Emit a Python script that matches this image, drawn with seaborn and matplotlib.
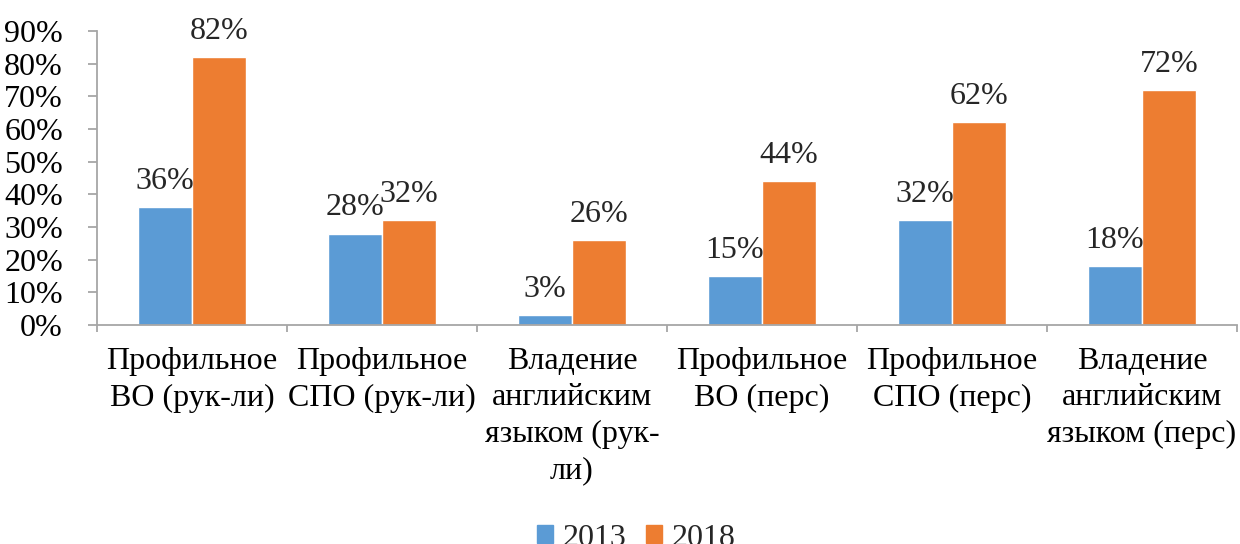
import pandas as pd
import numpy as np
import matplotlib.pyplot as plt
import seaborn as sns

categories = [
    "Профильное\nВО (рук-ли)",
    "Профильное\nСПО (рук-ли)",
    "Владение\nанглийским\nязыком (рук-\nли)",
    "Профильное\nВО (перс)",
    "Профильное\nСПО (перс)",
    "Владение\nанглийским\nязыком (перс)",
]
years = ["2013", "2018"]
values_2013 = [0.36, 0.28, 0.03, 0.15, 0.32, 0.18]
values_2018 = [0.82, 0.32, 0.26, 0.44, 0.62, 0.72]
colors = {"2013": "#5B9BD5", "2018": "#ED7D31"}

sns.set_theme(style="white")
plt.rcParams['font.family'] = ['Liberation Serif', 'DejaVu Serif']
FS = 23

df = pd.DataFrame({
    "cat": categories * 2,
    "year": [years[0]] * len(categories) + [years[1]] * len(categories),
    "value": values_2013 + values_2018,
})

fig = plt.figure(figsize=(12.4, 5.44), dpi=100)
ax = fig.add_axes([97 / 1240, 1 - 325 / 544, 1140 / 1240, (325 - 31) / 544])

sns.barplot(data=df, x="cat", y="value", hue="year", palette=colors,
            width=0.57, saturation=1, ax=ax, legend=False)

# value labels above bars
for container in ax.containers:
    labels = [f"{v * 100:.0f}%" for v in container.datavalues]
    ax.bar_label(container, labels=labels, padding=8, fontsize=FS)

ax.set_ylim(0, 0.9)
ax.set_xlim(-0.5, 5.5)
ticks = np.arange(0, 0.91, 0.1)
ax.set_yticks(ticks)
ax.set_yticklabels([f"{int(round(t * 100))}%" for t in ticks])
ax.set_xlabel("")
ax.set_ylabel("")

spine_col = "#A6A6A6"
for s in ["top", "right"]:
    ax.spines[s].set_visible(False)
for s in ["left", "bottom"]:
    ax.spines[s].set_color(spine_col)
    ax.spines[s].set_linewidth(1.3)

ax.tick_params(axis="y", which="major", left=True, length=6.5, width=1.3,
               color=spine_col, labelcolor="black", labelsize=FS, pad=18)
ax.tick_params(axis="x", which="major", length=0, labelsize=FS, pad=16,
               labelcolor="black")
ax.set_xticks(np.arange(-0.5, 6, 1), minor=True)
ax.tick_params(axis="x", which="minor", bottom=True, length=5, width=1.3,
               color=spine_col)
for lbl in ax.get_xticklabels():
    lbl.set_linespacing(1.33)

handles = [plt.Rectangle((0, 0), 1, 1, color=colors[y]) for y in years]
fig.legend(handles, years, loc="center", bbox_to_anchor=(0.513, 0.011),
           ncol=2, frameon=False, fontsize=FS, handlelength=0.5,
           handleheight=0.5, handletextpad=0.3, columnspacing=0.6)

plt.savefig("out.png", dpi=100)
plt.close()
